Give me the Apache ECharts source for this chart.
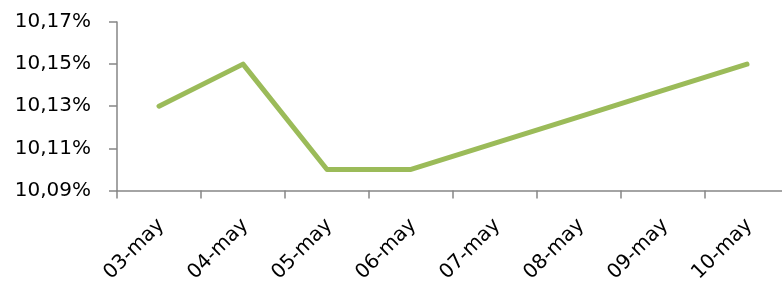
<!DOCTYPE html>
<html><head><meta charset="utf-8">
<script src="https://cdn.jsdelivr.net/npm/echarts@6/dist/echarts.min.js"></script>
<style>html,body{margin:0;padding:0;background:#fff}#c{width:782px;height:282px}</style>
</head><body><div id="c"></div>
<script>
const categories = ['03-may','04-may','05-may','06-may','07-may','08-may','09-may','10-may'];
const rates = [10.13, 10.15, 10.10, 10.10, 10.1125, 10.125, 10.1375, 10.15];
const yMin = 10.09, yMax = 10.17, yStep = 0.02;

const chart = echarts.init(document.getElementById('c'), null, {renderer:'canvas'});
const font = 'DejaVu Sans';
chart.setOption({
  animation:false,
  grid:{left:117, top:22, width:672, height:168.5, containLabel:false, outerBoundsMode:'none'},
  xAxis:{type:'category', data:categories, boundaryGap:true,
    axisLine:{lineStyle:{color:'#868686', width:1.5}},
    axisTick:{show:true, length:8, lineStyle:{color:'#868686', width:1.5}},
    axisLabel:{rotate:45, margin:24, verticalAlign:'top', lineHeight:14, padding:[0,4,0,0], color:'#000', fontFamily:font, fontSize:20}},
  yAxis:{type:'value', min:yMin, max:yMax, interval:yStep,
    axisLine:{show:true, lineStyle:{color:'#868686', width:1.5}},
    axisTick:{show:true, length:8, lineStyle:{color:'#868686', width:1.5}},
    splitLine:{show:false},
    axisLabel:{margin:26, color:'#000', fontFamily:font, fontSize:20,
      formatter:v=>v.toFixed(2).replace('.',',')+'%'}},
  series:[{type:'line', data:rates, symbol:'none', lineStyle:{color:'#9BBB59', width:5, cap:'round', join:'round'}}]
});
</script></body></html>
